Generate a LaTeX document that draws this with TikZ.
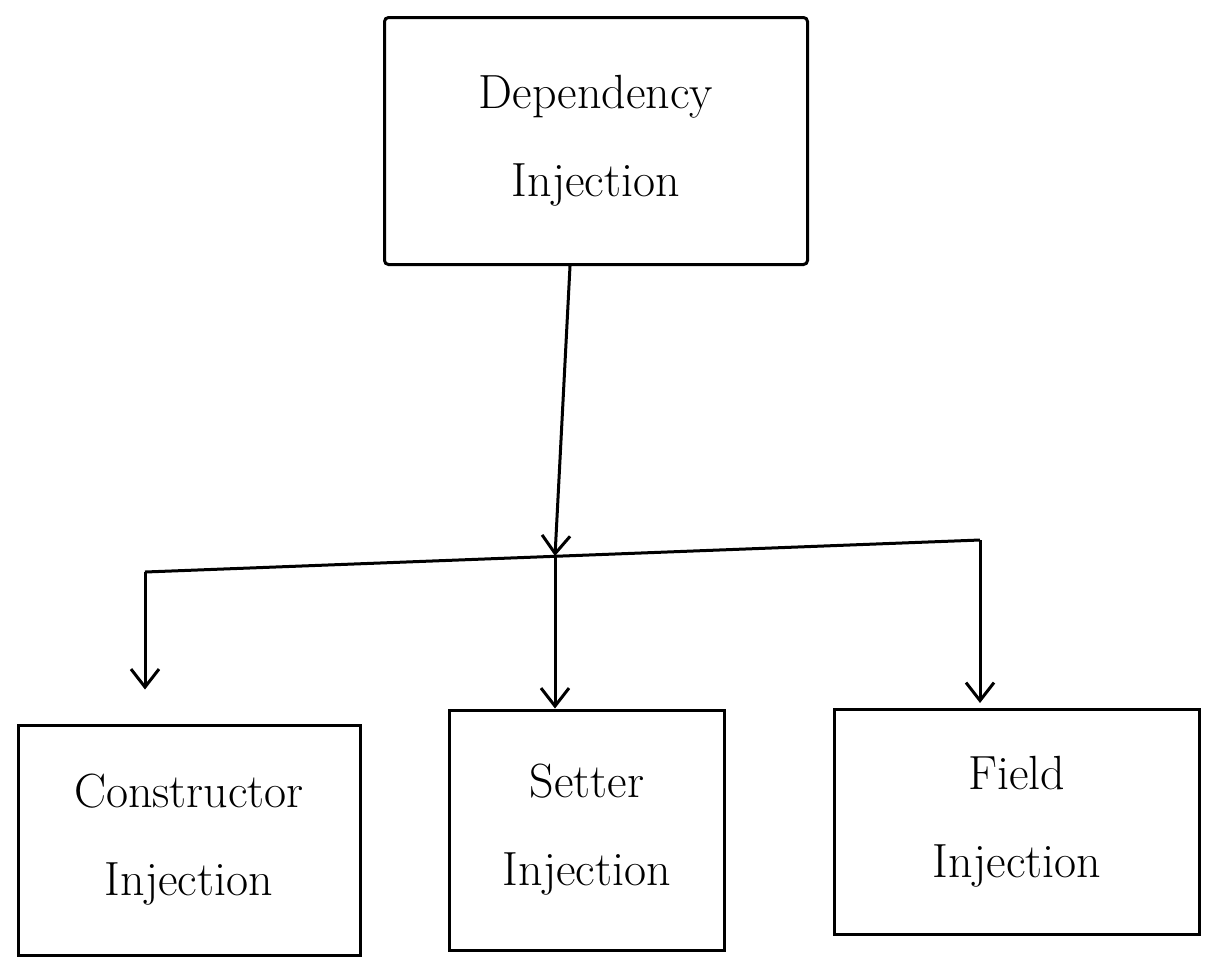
\documentclass[tikz,border=0pt]{standalone}
\usetikzlibrary{arrows.meta,calc}
\begin{document}
\begin{tikzpicture}[x=0.5pt,y=-0.5pt,
  box/.style={draw,line width=1.5pt,align=center,font=\fontsize{24}{44}\selectfont},
  wire/.style={line width=1.5pt},
  arr/.style={wire,-{Straight Barb[length=9pt,width=14pt,line width=1.5pt]}}]
\useasboundingbox[fill=white] (0,0) rectangle (1213,960);
% boxes
\node[box,minimum width=211.5pt,minimum height=123.5pt,rounded corners=2pt] (top) at (596,141) {Dependency\\Injection};
\node[box,minimum width=171pt,minimum height=115pt] (cons) at (189,840) {Constructor\\Injection};
\node[box,minimum width=137.5pt,minimum height=120pt] (set) at (587,830) {Setter\\Injection};
\node[box,minimum width=182.5pt,minimum height=112.5pt] (field) at (1017,822) {Field\\Injection};
% branching points
\coordinate (J) at (555,556);
\coordinate (L) at (145,572);
\coordinate (R) at (980,540);
% connectors
\draw[arr] ($(top.south)+(-26,0)$) -- (J);
\draw[wire] (L) -- (R);
\draw[arr,shorten >=17pt] (L) -- (L |- cons.north);
\draw[arr] (J) -- (J |- set.north);
\draw[arr] (R) -- ($(R |- field.north)+(0,-5)$);
\end{tikzpicture}
\end{document}
